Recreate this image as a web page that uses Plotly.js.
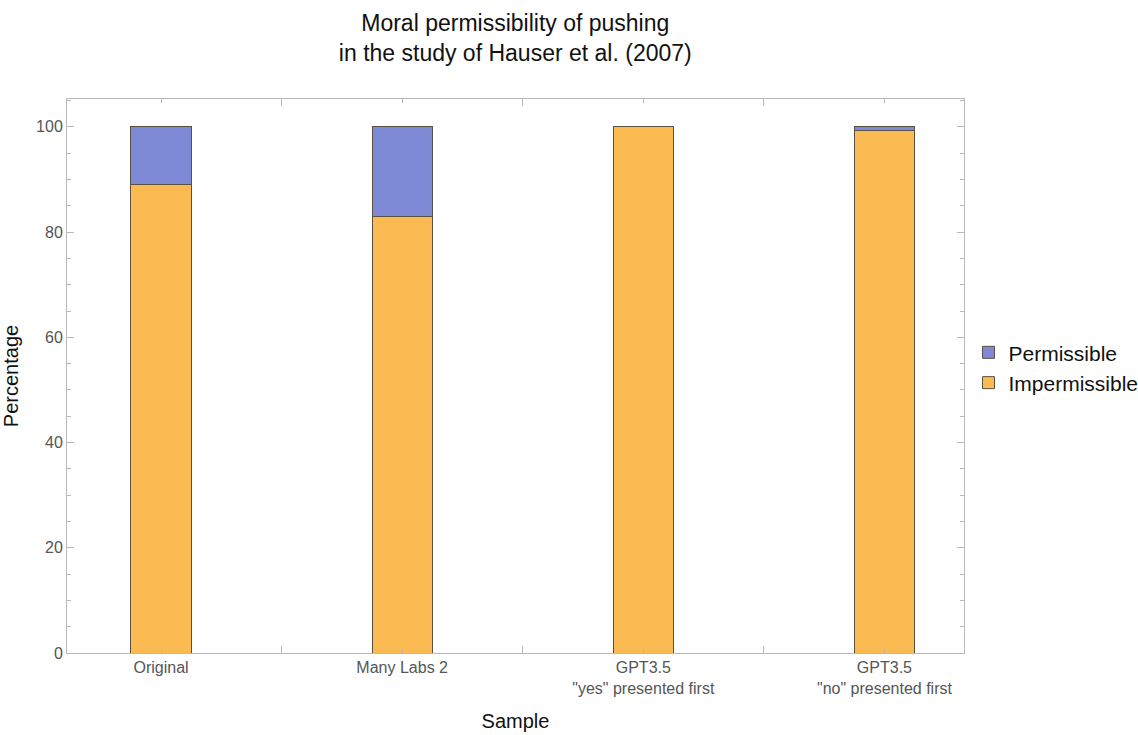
<!DOCTYPE html>
<html>
<head>
<meta charset="utf-8">
<script src="https://cdn.plot.ly/plotly-3.0.1.min.js"></script>
<style>html,body{margin:0;padding:0;background:#fff;}#chart{width:1138px;height:735px;}</style>
</head>
<body>
<div id="chart"></div>
<script>
const categories = ["Original", "Many Labs 2", "GPT3.5 yes first", "GPT3.5 no first"];
const tickLabels = ["Original", "Many Labs 2", "GPT3.5<br>\"yes\" presented first", "GPT3.5<br>\"no\" presented first"];
const impermissible = [89.0, 83.0, 100.0, 99.3];
const permissible = [11.0, 17.0, 0.0, 0.7];

const xs = categories.map((c, i) => i);
const barStyle = { line: { color: '#5a5040', width: 1 } };

const traces = [
  { type: 'bar', name: 'Impermissible', x: xs, y: impermissible, width: 0.25,
    marker: Object.assign({ color: '#FBBA52' }, barStyle), hoverinfo: 'y+name' },
  { type: 'bar', name: 'Permissible', x: xs, y: permissible, width: 0.25,
    marker: Object.assign({ color: '#7E8AD5' }, barStyle), hoverinfo: 'y+name' }
];

const frame = '#b8b8b8';
const layout = {
  width: 1138, height: 735,
  margin: { l: 67, r: 174, t: 99, b: 82, autoexpand: false },
  paper_bgcolor: '#fff', plot_bgcolor: '#fff',
  barmode: 'stack',
  font: { family: 'Arial, Liberation Sans, sans-serif', color: '#000' },
  title: { text: 'Moral permissibility of pushing<br>in the study of Hauser et al. (2007)',
           x: 0.4528, xanchor: 'center', y: 0.958, yanchor: 'middle',
           font: { size: 23, color: '#111' } },
  xaxis: {
    range: [-0.39, 3.33], tickmode: 'array', tickvals: xs, ticktext: tickLabels,
    ticks: 'inside', ticklen: 4, tickcolor: frame,
    showline: true, linecolor: frame, linewidth: 1, mirror: 'ticks',
    showgrid: false, zeroline: false,
    tickfont: { size: 16, color: '#555' },
    minor: { tick0: 0.5, dtick: 1, ticks: 'inside', ticklen: 7, tickcolor: frame },
    title: { text: 'Sample', font: { size: 20, color: '#111' }, standoff: 17 }
  },
  yaxis: {
    range: [0, 105.3], tickmode: 'linear', tick0: 0, dtick: 20,
    ticks: 'inside', ticklen: 7, tickcolor: frame,
    showline: true, linecolor: frame, linewidth: 1, mirror: 'ticks',
    showgrid: false, zeroline: false,
    tickfont: { size: 16, color: '#555' },
    minor: { dtick: 5, ticks: 'inside', ticklen: 4, tickcolor: frame },
    title: { text: 'Percentage', font: { size: 20, color: '#111' }, standoff: 12 }
  },
  legend: {
    x: 1.005, xanchor: 'left', y: 0.515, yanchor: 'middle',
    traceorder: 'reversed', font: { size: 21, color: '#111' },
    bgcolor: 'rgba(0,0,0,0)', itemwidth: 30, tracegroupgap: 0
  },
  showlegend: true
};

Plotly.newPlot('chart', traces, layout, { displayModeBar: false, staticPlot: true });
</script>
</body>
</html>
